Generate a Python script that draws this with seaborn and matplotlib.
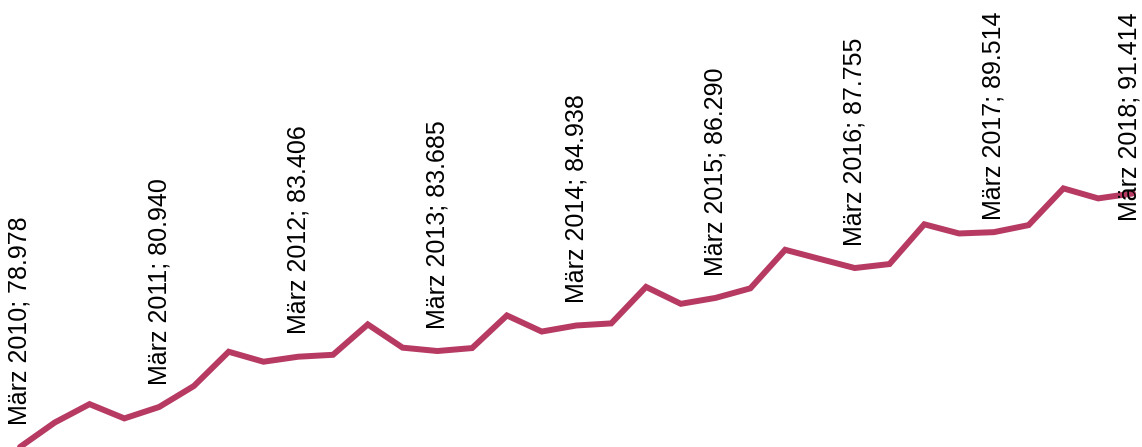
import matplotlib
matplotlib.use("Agg")
import matplotlib.pyplot as plt
import numpy as np
import pandas as pd
import seaborn as sns

# quarterly values, März 2010 .. März 2018
quarters = ["März 2010", "Jun 2010", "Sep 2010", "Dez 2010",
            "März 2011", "Jun 2011", "Sep 2011", "Dez 2011",
            "März 2012", "Jun 2012", "Sep 2012", "Dez 2012",
            "März 2013", "Jun 2013", "Sep 2013", "Dez 2013",
            "März 2014", "Jun 2014", "Sep 2014", "Dez 2014",
            "März 2015", "Jun 2015", "Sep 2015", "Dez 2015",
            "März 2016", "Jun 2016", "Sep 2016", "Dez 2016",
            "März 2017", "Jun 2017", "Sep 2017", "Dez 2017",
            "März 2018"]
values = [78.978, 80.18, 81.08, 80.38,
          80.940, 81.97, 83.65, 83.16,
          83.406, 83.50, 84.99, 83.85,
          83.685, 83.83, 85.43, 84.64,
          84.938, 85.04, 86.83, 86.00,
          86.290, 86.76, 88.65, 88.20,
          87.755, 87.95, 89.90, 89.45,
          89.514, 89.86, 91.66, 91.17,
          91.414]

line_color = "#B73A63"

df = pd.DataFrame({"idx": np.arange(len(values)), "quartal": quarters, "wert": values})

sns.set_style("white")
plt.rcParams['font.family'] = ['Liberation Sans', 'DejaVu Sans']

fig = plt.figure(figsize=(11.42, 4.47), dpi=100)
ax = fig.add_axes([0, 0, 1, 1])

sns.lineplot(data=df, x="idx", y="wert", ax=ax, color=line_color,
             linewidth=4.3, solid_joinstyle="miter")

ax.set_xlim(-0.575, 32.26)
ax.set_ylim(78.978, 100.9)
ax.axis("off")

# Beschriftung nur an den März-Werten
labels = []
for i, row in df.iterrows():
    if not row["quartal"].startswith("März"):
        continue
    txt = f"{row['quartal']}; {row['wert']:.3f}"
    t = ax.annotate(txt, (row["idx"], row["wert"]), xytext=(0, 16),
                    textcoords="offset points", rotation=90,
                    ha="center", va="bottom", fontsize=18, color="black")
    labels.append(t)

# Labels, die aus dem Bild ragen, nach innen schieben (wie Excel)
fig.canvas.draw()
renderer = fig.canvas.get_renderer()
fig_w = fig.bbox.width
fig_h = fig.bbox.height
for t in labels:
    bb = t.get_window_extent(renderer)
    ox, oy = t.xyann
    if bb.y1 > fig_h - 12:
        oy -= (bb.y1 - (fig_h - 12)) * 72 / fig.dpi
    if bb.x1 > fig_w - 1:
        ox -= (bb.x1 - (fig_w - 1)) * 72 / fig.dpi
    t.xyann = (ox, oy)

plt.savefig("out.png", dpi=100)
